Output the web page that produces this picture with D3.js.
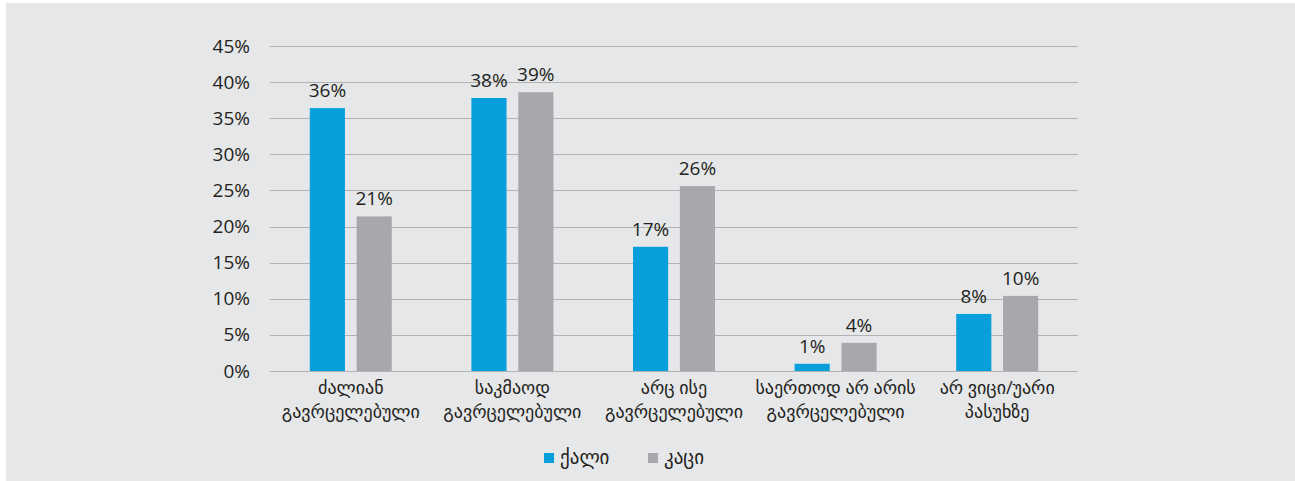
<!DOCTYPE html>
<html>
<head>
<meta charset="utf-8">
<script src="https://cdn.jsdelivr.net/npm/d3@7"></script>
<style>
  html, body { margin: 0; padding: 0; background: #ffffff; }
  svg text { font-family: "Open Sans", "DejaVu Sans", sans-serif; fill: #231f20; }
</style>
</head>
<body>
<div id="chart"></div>
<script>
// categories (two lines each)
const categories = [
    ["ძალიან", "გავრცელებული"],
    ["საკმაოდ", "გავრცელებული"],
    ["არც ისე", "გავრცელებული"],
    ["საერთოდ არ არის", "გავრცელებული"],
    ["არ ვიცი/უარი", "პასუხზე"]
];
const seriesNames = ["ქალი", "კაცი"];
const women = [36.4, 37.8, 17.2, 1.0, 7.9];
const men = [21.4, 38.6, 25.6, 3.9, 10.4];
const yTicks = [0, 5, 10, 15, 20, 25, 30, 35, 40, 45];

const colors = ["#069fdc", "#a7a8ab"];

const width = 1295;
const height = 481;
const plotLeft = 270, plotRight = 1078, plotTop = 46, plotBottom = 371;

const data = categories.map((c, i) => ({ cat: i, values: [women[i], men[i]] }));

const svg = d3.select("#chart")
    .append("svg")
    .attr("width", width)
    .attr("height", height);

svg.append("rect")
    .attr("x", 6).attr("y", 3)
    .attr("width", width - 6).attr("height", height - 3)
    .attr("fill", "#e6e7e9");

const xScale = d3.scaleBand()
    .domain(d3.range(categories.length))
    .range([plotLeft, plotRight]);

const xInner = d3.scaleBand()
    .domain([0, 1])
    .range([0, 82])
    .paddingInner(0.25);

const yScale = d3.scaleLinear()
    .domain([0, 45])
    .range([plotBottom, plotTop]);

// gridlines
svg.append("g")
    .selectAll("line")
    .data(yTicks)
    .enter()
    .append("line")
    .attr("x1", plotLeft)
    .attr("x2", plotRight)
    .attr("y1", d => Math.round(yScale(d)) + 0.5)
    .attr("y2", d => Math.round(yScale(d)) + 0.5)
    .attr("stroke", "#b1b2b4")
    .attr("stroke-width", 1);

// y axis labels
const yAxis = d3.axisLeft(yScale)
    .tickValues(yTicks)
    .tickFormat(d => d + "%")
    .tickSize(0)
    .tickPadding(0);

const yG = svg.append("g")
    .attr("transform", "translate(250,0)")
    .call(yAxis);
yG.select(".domain").remove();
yG.selectAll("text")
    .attr("font-size", 19)
    .attr("fill", "#231f20")
    .style("font-family", "'Open Sans', sans-serif");

// bars
const groups = svg.append("g")
    .selectAll("g")
    .data(data)
    .enter()
    .append("g")
    .attr("transform", d => "translate(" + (xScale(d.cat) + xScale.bandwidth() / 2 - 41) + ",0)");

groups.selectAll("rect")
    .data(d => d.values)
    .enter()
    .append("rect")
    .attr("x", (d, i) => xInner(i))
    .attr("y", d => yScale(d))
    .attr("width", xInner.bandwidth())
    .attr("height", d => plotBottom - yScale(d))
    .attr("fill", (d, i) => colors[i]);

groups.selectAll("text.val")
    .data(d => d.values)
    .enter()
    .append("text")
    .attr("class", "val")
    .attr("x", (d, i) => xInner(i) + xInner.bandwidth() / 2)
    .attr("y", d => yScale(d) - 11)
    .attr("text-anchor", "middle")
    .attr("font-size", 19)
    .text(d => Math.round(d) + "%");

// category labels
const xG = svg.append("g");
xG.selectAll("text")
    .data(categories)
    .enter()
    .append("text")
    .attr("text-anchor", "middle")
    .attr("font-size", 18)
    .attr("x", (d, i) => xScale(i) + xScale.bandwidth() / 2)
    .attr("y", 394)
    .each(function (d) {
        const t = d3.select(this);
        d.forEach((line, j) => {
            t.append("tspan")
                .attr("x", t.attr("x"))
                .attr("dy", j === 0 ? 0 : 24)
                .text(line);
        });
    });

// legend
const legendX = [544, 648];
const legend = svg.append("g")
    .selectAll("g")
    .data(seriesNames)
    .enter()
    .append("g")
    .attr("transform", (d, i) => "translate(" + legendX[i] + ",453)");

legend.append("rect")
    .attr("width", 10)
    .attr("height", 10)
    .attr("fill", (d, i) => colors[i]);

legend.append("text")
    .attr("x", 16)
    .attr("y", 11)
    .attr("font-size", 19)
    .text(d => d);
</script>
</body>
</html>
